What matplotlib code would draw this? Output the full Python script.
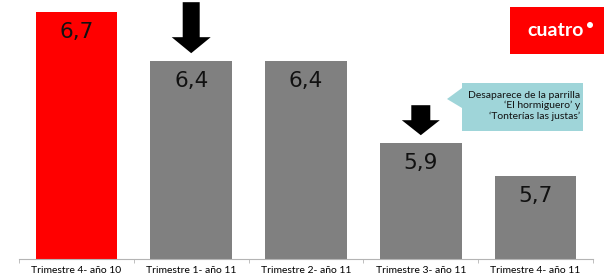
import numpy as np
import matplotlib.pyplot as plt
import matplotlib.transforms as mtrans
from matplotlib.patches import Polygon, Rectangle, Ellipse

categories = ["Trimestre 4- año 10", "Trimestre 1- año 11", "Trimestre 2- año 11",
              "Trimestre 3- año 11", "Trimestre 4- año 11"]
values = [6.7, 6.4, 6.4, 5.9, 5.7]
labels = ["6,7", "6,4", "6,4", "5,9", "5,7"]
colors = ["#ff0000", "#808080", "#808080", "#808080", "#808080"]
arrow_bars = [1, 3]  # bars with a down arrow over them
note = "Desaparece de la parrilla\n\u2018El hormiguero\u2019 y\n\u2018Tonterías las justas\u2019"

W, H = 615, 277
fig = plt.figure(figsize=(W / 100, H / 100), dpi=100)
ax = fig.add_axes([19 / W, (H - 259) / H, (593 - 19) / W, 259 / H])

x = np.arange(len(values))
ax.bar(x, values, width=0.71, color=colors, edgecolor="none")
ax.set_xlim(-0.5, len(values) - 0.5)
ax.set_ylim(5.194, 6.773)

for s in ["top", "right", "left"]:
    ax.spines[s].set_visible(False)
ax.spines["bottom"].set_color("#b4b4b4")
ax.set_yticks([])
ax.set_xticks(np.arange(len(values) + 1) - 0.5, minor=True)
ax.set_xticks(x)
ax.set_xticklabels(categories, fontsize=7.5, family="Lato")
ax.tick_params(axis="x", which="major", length=0, pad=5)
ax.tick_params(axis="x", which="minor", length=3, color="#b4b4b4")

for xi, v, lab in zip(x, values, labels):
    ax.annotate(lab, (xi, v), xytext=(0, -20), textcoords="offset pixels",
                ha="center", va="center", fontsize=15.5, color="#111111")


def down_arrow(xi, v, total, head_h, head_w, shaft_w, gap=8):
    # shape in pixels, anchored at bar top
    pts = np.array([
        [-shaft_w / 2, gap + total], [shaft_w / 2, gap + total],
        [shaft_w / 2, gap + head_h], [head_w / 2, gap + head_h],
        [0, gap], [-head_w / 2, gap + head_h], [-shaft_w / 2, gap + head_h],
    ]) / 100.0
    tr = fig.dpi_scale_trans + mtrans.ScaledTranslation(xi, v, ax.transData)
    ax.add_patch(Polygon(pts, closed=True, transform=tr, fc="black", ec="none",
                         clip_on=False))


down_arrow(arrow_bars[0], values[arrow_bars[0]], 51, 16, 39, 17)
down_arrow(arrow_bars[1], values[arrow_bars[1]], 30, 15, 38, 19)

# callout box (figure pixel coords, y from top)
def px(xp, yp):
    return (xp / W, 1 - yp / H)

call = [px(462, 83), px(583, 83), px(583, 131), px(462, 131), px(462, 108),
        px(447, 99), px(462, 88)]
fig.patches.append(Polygon(call, closed=True, transform=fig.transFigure,
                           fc="#9fd5d9", ec="none"))
fig.text(*px(580, 106), note, ha="right", va="center", fontsize=7.5,
         family="Lato", linespacing=1.2, color="#111111")

# channel logo
fig.patches.append(Rectangle(px(510, 54), 94 / W, 47 / H, transform=fig.transFigure,
                             fc="#ff0000", ec="none"))
fig.text(*px(556, 30), "cuatro", ha="center", va="center", fontsize=14,
         family="Lato", weight="bold", color="white")
fig.patches.append(Ellipse(px(590, 25), 6 / W, 6 / H, transform=fig.transFigure,
                           fc="white", ec="none"))

fig.savefig("out.png", dpi=100)
